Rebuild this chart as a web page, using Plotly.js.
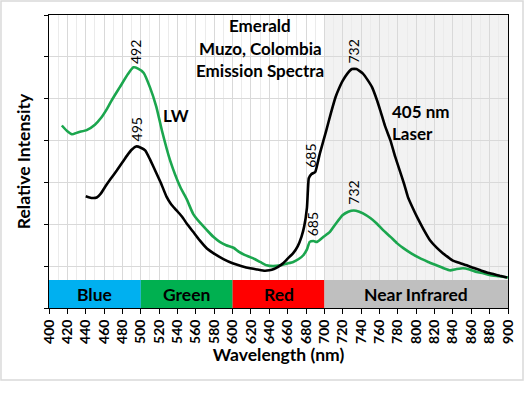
<!DOCTYPE html>
<html>
<head>
<meta charset="utf-8">
<script src="https://cdn.plot.ly/plotly-3.0.1.min.js"></script>
<style>
  html, body { margin: 0; padding: 0; background: #ffffff; overflow: hidden; }
  #chart { width: 531px; height: 396px; }
</style>
</head>
<body>
<div id="chart"></div>
<script>
// ---- Data ----
// LW (long-wave UV) emission spectrum (green curve)
const lwWavelength = [414, 420, 425, 432, 441, 450, 457, 463, 468, 477, 486, 492, 497, 503, 510, 517, 523, 532, 543, 550, 557, 564, 572, 579, 586, 593, 601, 607, 613, 622, 630, 637, 644, 652, 659, 666, 672, 677, 681, 684, 688, 692, 699, 706, 713, 720, 726, 732, 738, 742, 750, 757, 764, 772, 779, 786, 795, 804, 813, 822, 830, 837, 844, 851, 858, 866, 873, 880, 890, 900];
const lwIntensity  = [4.36, 4.22, 4.15, 4.20, 4.25, 4.38, 4.55, 4.75, 4.95, 5.27, 5.59, 5.75, 5.72, 5.62, 5.27, 4.80, 4.24, 3.52, 2.89, 2.60, 2.25, 2.05, 1.86, 1.70, 1.58, 1.50, 1.44, 1.34, 1.27, 1.19, 1.10, 1.02, 1.00, 1.02, 1.06, 1.10, 1.17, 1.26, 1.40, 1.58, 1.60, 1.58, 1.70, 1.82, 2.03, 2.22, 2.30, 2.33, 2.30, 2.26, 2.15, 2.02, 1.86, 1.70, 1.55, 1.43, 1.30, 1.19, 1.10, 1.02, 0.95, 0.90, 0.93, 0.95, 0.92, 0.86, 0.83, 0.79, 0.76, 0.73];

// 405 nm laser emission spectrum (black curve)
const laserWavelength = [440, 446, 452, 457, 461, 467, 474, 480, 485, 490, 495, 500, 505, 510, 517, 522, 528, 533, 539, 545, 550, 557, 564, 572, 579, 590, 600, 610, 619, 627, 635, 640, 645, 650, 655, 660, 666, 671, 675, 678, 681, 682, 683, 686, 690, 695, 702, 707, 712, 716, 720, 725, 730, 735, 742, 747, 752, 757, 761, 766, 772, 777, 782, 787, 791, 796, 801, 808, 815, 822, 829, 835, 840, 848, 855, 862, 870, 877, 884, 891, 899];
const laserIntensity  = [2.67, 2.63, 2.64, 2.75, 2.89, 3.08, 3.29, 3.48, 3.64, 3.78, 3.86, 3.83, 3.76, 3.55, 3.22, 2.98, 2.66, 2.48, 2.33, 2.18, 2.02, 1.82, 1.62, 1.42, 1.31, 1.17, 1.07, 1.00, 0.95, 0.92, 0.89, 0.90, 0.93, 0.99, 1.07, 1.18, 1.31, 1.48, 1.70, 1.95, 2.40, 2.80, 3.10, 3.20, 3.25, 3.69, 4.24, 4.65, 5.03, 5.25, 5.43, 5.60, 5.71, 5.71, 5.60, 5.45, 5.27, 4.98, 4.71, 4.35, 4.00, 3.62, 3.29, 2.95, 2.65, 2.40, 2.17, 1.88, 1.62, 1.45, 1.31, 1.21, 1.13, 1.07, 1.02, 0.96, 0.90, 0.85, 0.81, 0.77, 0.73];

// Spectral region bands
const bandNames = ["Blue", "Green", "Red", "Near Infrared"];
const bandStart = [400, 500, 600, 700];
const bandEnd   = [500, 600, 700, 900];

// Peak labels (wavelength text, nm)
const peakText = ["492", "495", "732", "685", "685", "732"];

// ---- Styles ----
const bandColors = ["#00B0F0", "#00B050", "#FF0000", "#BFBFBF"];
const FONT = "Lato, 'Open Sans', sans-serif";
const bandTop = 0.667;

const traces = [
  { x: lwWavelength, y: lwIntensity, mode: "lines", type: "scatter",
    line: { color: "#1BA64E", width: 2.6, shape: "spline", smoothing: 0.5 }, hoverinfo: "skip" },
  { x: laserWavelength, y: laserIntensity, mode: "lines", type: "scatter",
    line: { color: "#000000", width: 2.6, shape: "spline", smoothing: 0.4 }, hoverinfo: "skip" }
];

const shapes = [];
// near-infrared light background
shapes.push({ type: "rect", xref: "x", yref: "y", x0: bandStart[3], x1: bandEnd[3], y0: bandTop, y1: 7,
  fillcolor: "#F2F2F2", line: { width: 0 }, layer: "below" });
for (let i = 0; i < bandNames.length; i++) {
  shapes.push({ type: "rect", xref: "x", yref: "y", x0: bandStart[i], x1: bandEnd[i], y0: 0, y1: bandTop,
    fillcolor: bandColors[i], line: { width: 0 }, layer: "between" });
}
// outer chart-area border
shapes.push({ type: "rect", xref: "paper", yref: "paper", x0: -0.1046, x1: 1.0327, y0: -0.2457, y1: 1.0478,
  line: { color: "#D9D9D9", width: 1.5 }, fillcolor: "rgba(0,0,0,0)", layer: "above" });

const annotations = [];
for (let i = 0; i < bandNames.length; i++) {
  annotations.push({ x: (bandStart[i] + bandEnd[i]) / 2, y: bandTop / 2, xref: "x", yref: "y",
    text: bandNames[i], showarrow: false, font: { family: FONT, size: 17.5, weight: "bold", color: "#000" } });
}
const titleLines = ["Emerald", "Muzo, Colombia", "Emission Spectra"];
const titleY = [6.74, 6.19, 5.67];
titleLines.forEach((t, i) => annotations.push({ x: 630, y: titleY[i], xref: "x", yref: "y", text: t,
  showarrow: false, font: { family: FONT, size: 17, weight: "bold", color: "#000" } }));

const boldTxt = (t, x, y, xanchor) => ({ x: x, y: y, xref: "x", yref: "y", text: t, showarrow: false,
  xanchor: xanchor || "center", font: { family: FONT, size: 17, weight: "bold", color: "#000" } });
annotations.push(boldTxt("LW", 538, 4.6));
annotations.push(boldTxt("405 nm", 771.5, 4.69, "left"));
annotations.push(boldTxt("Laser", 771.5, 4.18, "left"));

const peakX = [495, 495, 732, 684.5, 687, 732];
const peakY = [6.12, 4.27, 6.12, 3.64, 2.01, 2.75];
for (let i = 0; i < peakText.length; i++) {
  annotations.push({ x: peakX[i], y: peakY[i], xref: "x", yref: "y", text: peakText[i], textangle: -90,
    showarrow: false, font: { family: FONT, size: 14, color: "#000" } });
}

const layout = {
  width: 531, height: 396,
  margin: { l: 49, r: 23, t: 15, b: 88 },
  paper_bgcolor: "#FFFFFF", plot_bgcolor: "#FFFFFF",
  showlegend: false,
  font: { family: FONT, color: "#000" },
  xaxis: {
    range: [400, 900], tick0: 400, dtick: 20, ticks: "outside", ticklen: 5, tickcolor: "#000", tickwidth: 1,
    tickangle: -90, tickfont: { family: FONT, size: 14, weight: "bold", color: "#000" },
    showgrid: true, gridcolor: "#D9D9D9", gridwidth: 1,
    minor: { dtick: 10, showgrid: true, gridcolor: "#EBEBEB", gridwidth: 1 },
    showline: true, linecolor: "#000", linewidth: 1, mirror: true, zeroline: false,
    title: { text: "Wavelength (nm)", font: { family: FONT, size: 17.5, weight: "bold", color: "#000" }, standoff: 4 }
  },
  yaxis: {
    range: [0, 7], dtick: 1, showticklabels: false, ticks: "outside", ticklen: 4, tickcolor: "#000",
    showgrid: true, gridcolor: "#D9D9D9", gridwidth: 1,
    showline: true, linecolor: "#000", linewidth: 1, mirror: true, zeroline: false,
    title: { text: "Relative Intensity", font: { family: FONT, size: 17.5, weight: "bold", color: "#000" }, standoff: 8 }
  },
  shapes: shapes,
  annotations: annotations
};

Plotly.newPlot("chart", traces, layout, { staticPlot: true, displayModeBar: false });
</script>
</body>
</html>
